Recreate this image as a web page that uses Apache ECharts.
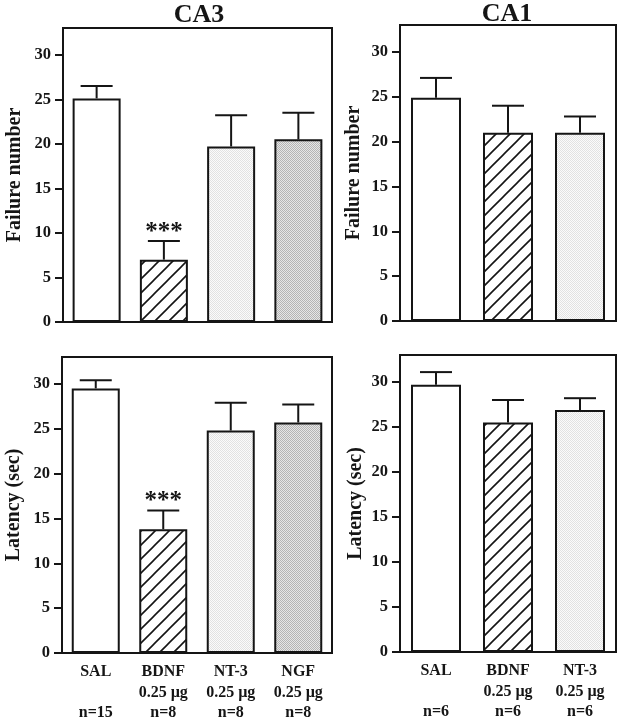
<!DOCTYPE html>
<html><head><meta charset="utf-8">
<script src="https://cdn.jsdelivr.net/npm/echarts@6/dist/echarts.min.js"></script>
<style>html,body{margin:0;padding:0;background:#fff}#c{width:617px;height:719px}</style>
</head><body><div id="c"></div>
<script>
// ---- data ----
const ca3Categories = ['SAL', 'BDNF', 'NT-3', 'NGF'];
const ca3AxisLabels = ['SAL\n\nn=15', 'BDNF\n0.25 µg\nn=8', 'NT-3\n0.25 µg\nn=8', 'NGF\n0.25 µg\nn=8'];
const ca1Categories = ['SAL', 'BDNF', 'NT-3'];
const ca1AxisLabels = ['SAL\n\nn=6', 'BDNF\n0.25 µg\nn=6', 'NT-3\n0.25 µg\nn=6'];
const ca3FailureMean = [25.1, 7.0, 19.7, 20.5];
const ca3FailureSem  = [1.4, 2.1, 3.5, 3.0];
const ca3LatencyMean = [29.5, 13.8, 24.8, 25.7];
const ca3LatencySem  = [0.9, 2.1, 3.1, 2.0];
const ca1FailureMean = [24.9, 21.0, 21.0];
const ca1FailureSem  = [2.2, 3.0, 1.8];
const ca1LatencyMean = [29.7, 25.5, 26.9];
const ca1LatencySem  = [1.4, 2.5, 1.3];
const ca3Signif = ['', '***', '', ''];
const ca1Signif = ['', '', ''];
const yTicks = [0, 5, 10, 15, 20, 25, 30];
const yMax = 33;

// ---- fills ----
const INK = '#151515';
function hatch() {
  const s = 14, c = document.createElement('canvas'); c.width = s; c.height = s;
  const g = c.getContext('2d'); g.fillStyle = '#fff'; g.fillRect(0, 0, s, s);
  g.strokeStyle = INK; g.lineWidth = 1.6;
  g.beginPath();
  g.moveTo(-2, s + 2); g.lineTo(s + 2, -2);
  g.moveTo(-2, 2); g.lineTo(2, -2);
  g.moveTo(s - 2, s + 2); g.lineTo(s + 2, s - 2);
  g.stroke();
  return c;
}
function stipple(a, b) {
  const c = document.createElement('canvas'); c.width = 2; c.height = 2;
  const g = c.getContext('2d');
  g.fillStyle = b; g.fillRect(0, 0, 2, 2);
  g.fillStyle = a; g.fillRect(0, 0, 1, 1); g.fillRect(1, 1, 1, 1);
  return c;
}
const fills = [
  '#ffffff',
  { image: hatch(), repeat: 'repeat' },
  { image: stipple('#e2e2e2', '#fbfbfb'), repeat: 'repeat' },
  { image: stipple('#b4b4b4', '#e6e6e6'), repeat: 'repeat' }
];

const FONT = 'Liberation Serif';
const grids = [
  { left: 63, top: 28, width: 269, height: 294 },
  { left: 400, top: 25, width: 216, height: 296 },
  { left: 62, top: 357, width: 270, height: 296 },
  { left: 400, top: 355, width: 216, height: 297 }
];
const panels = [
  { cats: ca3Categories, labels: ca3AxisLabels, mean: ca3FailureMean, sem: ca3FailureSem, sig: ca3Signif, name: 'Failure number', showX: false, bw: 48, gap: 38 },
  { cats: ca1Categories, labels: ca1AxisLabels, mean: ca1FailureMean, sem: ca1FailureSem, sig: ca1Signif, name: 'Failure number', showX: false, bw: 50, gap: 36 },
  { cats: ca3Categories, labels: ca3AxisLabels, mean: ca3LatencyMean, sem: ca3LatencySem, sig: ca3Signif, name: 'Latency (sec)', showX: true, bw: 48, gap: 38 },
  { cats: ca1Categories, labels: ca1AxisLabels, mean: ca1LatencyMean, sem: ca1LatencySem, sig: ca1Signif, name: 'Latency (sec)', showX: true, bw: 50, gap: 34 }
];

const option = {
  backgroundColor: '#fff',
  animation: false,
  grid: grids.map(g => Object.assign({ show: true, borderColor: INK, borderWidth: 2, backgroundColor: 'transparent', containLabel: false, outerBoundsMode: 'none' }, g)),
  graphic: [
    { type: 'text', style: { text: 'CA3', x: 199, y: 15, textAlign: 'center', textVerticalAlign: 'middle', font: 'bold 26px "' + FONT + '"', fill: INK } },
    { type: 'text', style: { text: 'CA1', x: 507, y: 14, textAlign: 'center', textVerticalAlign: 'middle', font: 'bold 26px "' + FONT + '"', fill: INK } }
  ],
  xAxis: panels.map((p, i) => ({
    type: 'category', gridIndex: i, data: p.labels,
    axisLine: { lineStyle: { color: INK, width: 2 } },
    axisTick: { show: false },
    axisLabel: { show: p.showX, interval: 0, margin: 9, color: INK, fontFamily: FONT, fontWeight: 'bold', fontSize: 16, lineHeight: 20.5 }
  })),
  yAxis: panels.map((p, i) => ({
    type: 'value', gridIndex: i, min: 0, max: yMax, interval: 5,
    name: p.name, nameLocation: 'middle', nameGap: p.gap,
    nameTextStyle: { color: INK, fontFamily: FONT, fontWeight: 'bold', fontSize: 20 },
    splitLine: { show: false },
    axisLine: { show: true, lineStyle: { color: INK, width: 2 } },
    axisTick: { show: true, length: 8, lineStyle: { color: INK, width: 2 }, customValues: yTicks },
    axisLabel: { color: INK, fontFamily: FONT, fontWeight: 'bold', fontSize: 16.5, margin: 12, customValues: yTicks }
  })),
  series: []
};

panels.forEach((p, i) => {
  option.series.push({
    type: 'bar', xAxisIndex: i, yAxisIndex: i, barWidth: p.bw, z: 2,
    data: p.mean.map((v, k) => ({ value: v, itemStyle: { color: fills[k], borderColor: INK, borderWidth: 2 } }))
  });
  option.series.push({
    type: 'custom', xAxisIndex: i, yAxisIndex: i, z: 3,
    data: p.mean.map((v, k) => [k, v, v + p.sem[k], p.sig[k]]),
    renderItem: function (params, api) {
      const x = api.value(0);
      const top = api.coord([x, api.value(1)]);
      const hi = api.coord([x, api.value(2)]);
      const hw = 16;
      const ls = { stroke: INK, lineWidth: 2 };
      const children = [
        { type: 'line', shape: { x1: top[0], y1: top[1], x2: hi[0], y2: hi[1] }, style: ls },
        { type: 'line', shape: { x1: hi[0] - hw, y1: hi[1], x2: hi[0] + hw, y2: hi[1] }, style: ls }
      ];
      const s = p.sig[params.dataIndex];
      if (s) {
        children.push({ type: 'text', style: { text: s, x: hi[0], y: hi[1] + 4, textAlign: 'center', textVerticalAlign: 'bottom', font: 'bold 25px "' + FONT + '"', fill: INK } });
      }
      return { type: 'group', children: children };
    }
  });
});

const chart = echarts.init(document.getElementById('c'), null, { renderer: 'canvas' });
chart.setOption(option);
</script>
</body></html>
